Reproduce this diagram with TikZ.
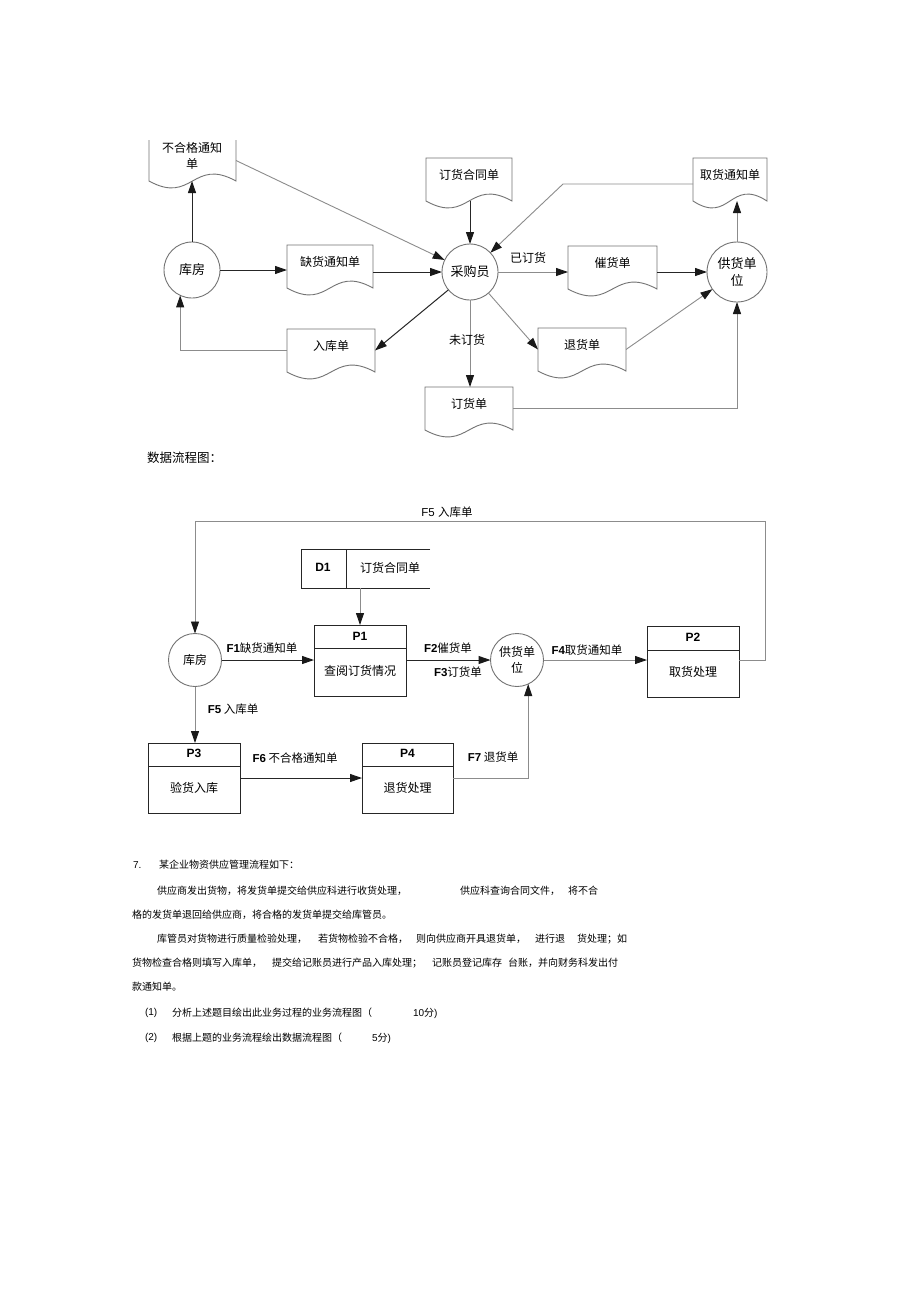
\documentclass[tikz,border=0pt]{standalone}
\usepackage{fontspec}
\setmainfont{Noto Sans CJK SC}
\newfontfamily\lat{Liberation Sans}
\usetikzlibrary{arrows.meta,calc}
\newcommand{\docout}[1]{%
 \draw[docline] (#1.south west) -- (#1.north west) -- (#1.north east) -- (#1.south east)
  .. controls ($(#1.south)+(0pt,24pt)$) and ($(#1.south)+(0pt,-24pt)$) .. cycle;}
\newcommand{\hdrline}[2]{%
 \draw[dk] ($(#1.north west)+(0pt,-#2)$) -- ($(#1.north east)+(0pt,-#2)$);}
\begin{document}
\begin{tikzpicture}[x=1pt,y=-1pt,
 every node/.style={inner sep=0pt,outer sep=0pt},
 docline/.style={draw=black!55,line width=0.9pt},
 docbox/.style={rectangle,text height=9pt,text depth=9pt,font=\fontsize{12}{14}\selectfont},
 circ/.style={circle,draw=black!55,line width=0.9pt,minimum size=#1,align=center,font=\fontsize{13}{17}\selectfont},
 dk/.style={draw=black!85,line width=1pt},
 lt/.style={draw=black!45,line width=0.9pt},
 tip/.style={-{Triangle[length=12pt,width=8pt,color=black!90]}},
 lbl/.style={font=\fontsize{12}{14}\selectfont},
 proc/.style={rectangle,draw=black!85,line width=1pt},
 flab/.style={font=\fontsize{11.5}{14}\selectfont},
 para/.style={anchor=west,font=\fontsize{10}{12}\selectfont}
]
\fill[white] (0,0) rectangle (920,1301);
\useasboundingbox (0,0) rectangle (920,1301);

% ---------- top business flow diagram ----------
\node[circ=56pt] (kufang) at (192,270) {库房};
\node[circ=56pt] (cgy) at (470,272) {采购员};
\node[circ=60pt] (ghdw) at (737,272) {供货单\\位};

\node[docbox,minimum width=87pt,minimum height=41pt] (buhege) at (192.5,160.5) {};
\node[align=center,font=\fontsize{12}{16}\selectfont] (buhegetxt) at (192,156) {不合格通知\\单};
\draw[docline] (buhege.north west) -- (buhege.south west)
  .. controls ($(buhege.south)+(0pt,-24pt)$) and ($(buhege.south)+(0pt,24pt)$) .. (buhege.south east) -- (buhege.north east);

\node[docbox,minimum width=86pt,minimum height=43pt] (quehuo) at (330,266.5) {缺货通知单};
\docout{quehuo}
\node[docbox,minimum width=88pt,minimum height=43pt] (rukudan) at (331,350.5) {入库单};
\docout{rukudan}
\node[docbox,minimum width=86pt,minimum height=43pt] (dhht) at (469,179.5) {订货合同单};
\docout{dhht}
\node[docbox,minimum width=74pt,minimum height=43pt] (quhuo) at (730,179.5) {取货通知单};
\docout{quhuo}
\node[docbox,minimum width=89pt,minimum height=43pt] (cuihuo) at (612.5,267.5) {催货单};
\docout{cuihuo}
\node[docbox,minimum width=88pt,minimum height=43pt] (tuihuo) at (582,349.5) {退货单};
\docout{tuihuo}
\node[docbox,minimum width=88pt,minimum height=43pt] (dinghuo) at (469,408.5) {订货单};
\docout{dinghuo}

\draw[dk,tip] (kufang) -- (kufang |- buhege.south);
\draw[dk,tip] (kufang) -- (kufang -| quehuo.west);
\draw[dk,tip] (quehuo.east |- cgy) -- (cgy);
\draw[dk,tip] (dhht.south -| cgy) -- (cgy);
\draw[lt,tip] (buhege.east) -- (cgy);
\coordinate (qbend) at (563,184);
\draw[lt,tip] (quhuo.west |- qbend) -- (qbend) -- (cgy);
\draw[lt,tip] (cgy) -- (cgy -| cuihuo.west);
\draw[dk,tip] (cuihuo.east |- ghdw) -- (ghdw);
\draw[lt,tip] (ghdw) -- (ghdw |- quhuo.south);
\draw[dk,tip] (cgy) -- (rukudan.east);
\draw[lt,tip] (rukudan.west) -| (kufang.-115);
\draw[lt,tip] (cgy) -- (tuihuo.west);
\draw[lt,tip] (tuihuo.east) -- (ghdw);
\draw[lt,tip] (cgy) -- (cgy |- dinghuo.north);
\draw[lt,tip] (dinghuo.east) -| (ghdw);

\node[lbl] (yidh) at (528,258) {已订货};
\node[lbl] (weidh) at (467,340) {未订货};

\node[anchor=west,font=\fontsize{12.5}{14}\selectfont] (dfdtitle) at (147,458) {数据流程图：};

% ---------- data flow diagram ----------
\node[circ=53pt,font=\fontsize{12}{16}\selectfont] (kf2) at (195,660) {库房};
\node[circ=53pt,font=\fontsize{12}{16}\selectfont] (gh2) at (517,660) {供货单\\位};

\node[minimum width=129pt,minimum height=39pt] (d1) at (365.5,568.5) {};
\draw[dk] (d1.north east) -- (d1.north west) -- (d1.south west) -- (d1.south east);
\draw[dk] ($(d1.north west)+(45pt,0pt)$) -- ($(d1.south west)+(45pt,0pt)$);
\node[font=\lat\bfseries\fontsize{12}{14}\selectfont] (d1id) at (323,567) {D1};
\node[lbl] (d1txt) at (390,568) {订货合同单};

\node[proc,minimum width=92pt,minimum height=71pt] (p1) at (360,660.5) {};
\hdrline{p1}{23pt}
\node[font=\lat\bfseries\fontsize{12}{14}\selectfont] (p1id) at (360,636) {P1};
\node[lbl] (p1txt) at (360,671) {查阅订货情况};

\node[proc,minimum width=92pt,minimum height=71pt] (p2) at (693,661.5) {};
\hdrline{p2}{24pt}
\node[font=\lat\bfseries\fontsize{12}{14}\selectfont] (p2id) at (693,637) {P2};
\node[lbl] (p2txt) at (693,672) {取货处理};

\node[proc,minimum width=92pt,minimum height=70pt] (p3) at (194,778) {};
\hdrline{p3}{23pt}
\node[font=\lat\bfseries\fontsize{12}{14}\selectfont] (p3id) at (194,753) {P3};
\node[lbl] (p3txt) at (194,788) {验货入库};

\node[proc,minimum width=91pt,minimum height=70pt] (p4) at (407.5,778) {};
\hdrline{p4}{23pt}
\node[font=\lat\bfseries\fontsize{12}{14}\selectfont] (p4id) at (407.5,753) {P4};
\node[lbl] (p4txt) at (407.5,788) {退货处理};

\draw[lt,tip] (p1.north |- d1.south) -- (p1.north);
\draw[dk,tip] (kf2) -- (kf2 -| p1.west);
\draw[dk,tip] (p1.east |- gh2) -- (gh2);
\draw[lt,tip] (gh2) -- (gh2 -| p2.west);
\coordinate (loopr) at (765,521);
\draw[lt,tip] (p2.east |- gh2) -| (loopr) -| (kf2);
\draw[lt,tip] (kf2) -- (kf2 |- p3.north);
\draw[dk,tip] (p3) -- (p4);
\draw[lt,tip] (p4.east) -| (gh2.-65);

\node[flab] (f5a) at (447,512) {{\lat F5 }入库单};
\node[flab] (f1) at (262,648) {{\lat\bfseries F1}缺货通知单};
\node[flab] (f2) at (448,648) {{\lat\bfseries F2}催货单};
\node[flab] (f3) at (458,672) {{\lat\bfseries F3}订货单};
\node[flab] (f4) at (587,650) {{\lat\bfseries F4}取货通知单};
\node[flab] (f5b) at (233,709) {{\lat\bfseries F5} 入库单};
\node[flab] (f6) at (295,758) {{\lat\bfseries F6} 不合格通知单};
\node[flab] (f7) at (493,757) {{\lat\bfseries F7} 退货单};

% ---------- question text ----------
\node[para] (t1a) at (133,865) {\lat 7.};
\node[para] (t1b) at (159,865) {某企业物资供应管理流程如下：};
\node[para] (t2a) at (157,891) {供应商发出货物，将发货单提交给供应科进行收货处理，};
\node[para] (t2b) at (460,891) {供应科查询合同文件，};
\node[para] (t2c) at (568,891) {将不合};
\node[para] (t3) at (132,915) {格的发货单退回给供应商，将合格的发货单提交给库管员。};
\node[para] (t4a) at (157,939) {库管员对货物进行质量检验处理，};
\node[para] (t4b) at (318,939) {若货物检验不合格，};
\node[para] (t4c) at (416,939) {则向供应商开具退货单，};
\node[para] (t4d) at (535,939) {进行退};
\node[para] (t4e) at (577,939) {货处理；如};
\node[para] (t5a) at (132,963) {货物检查合格则填写入库单，};
\node[para] (t5b) at (272,963) {提交给记账员进行产品入库处理；};
\node[para] (t5c) at (432,963) {记账员登记库存};
\node[para] (t5d) at (508,963) {台账，并向财务科发出付};
\node[para] (t6) at (132,987) {款通知单。};
\node[para] (t7a) at (145,1013) {\lat (1)};
\node[para] (t7b) at (172,1013) {分析上述题目绘出此业务过程的业务流程图（};
\node[para] (t7c) at (413,1013) {{\lat 10}分{\lat )}};
\node[para] (t8a) at (145,1038) {\lat (2)};
\node[para] (t8b) at (172,1038) {根据上题的业务流程绘出数据流程图（};
\node[para] (t8c) at (372,1038) {{\lat 5}分{\lat )}};
\end{tikzpicture}
\end{document}
